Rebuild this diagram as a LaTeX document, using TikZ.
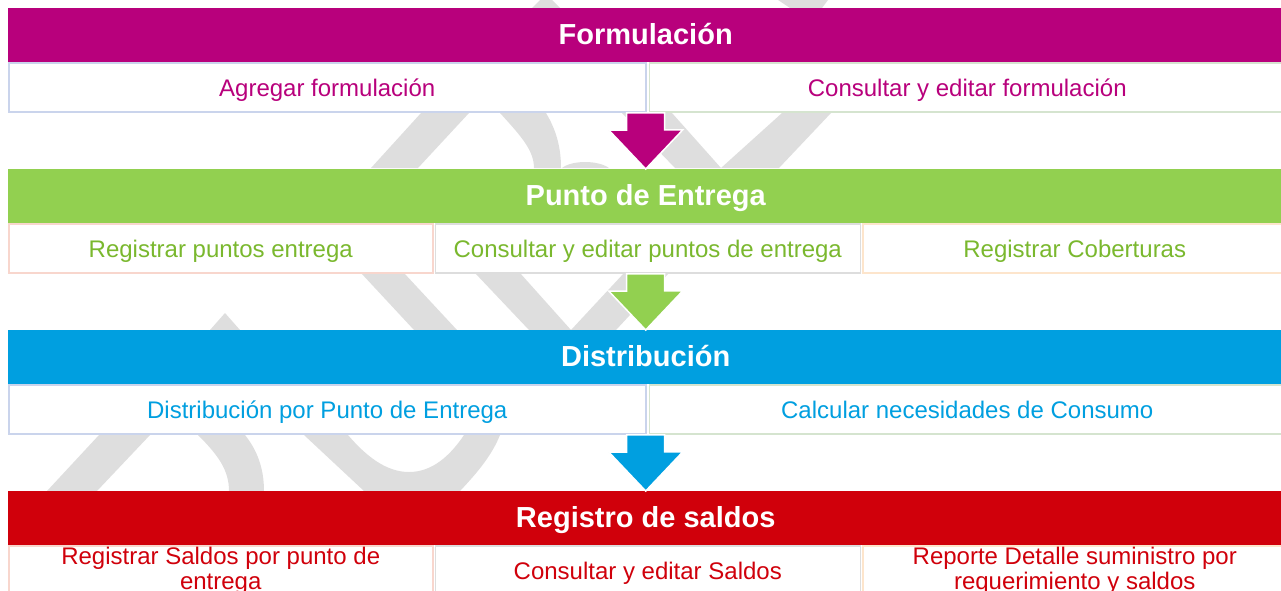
\documentclass[tikz,border=0pt]{standalone}
\usepackage{fontspec}
\setmainfont{Liberation Sans}
\usetikzlibrary{positioning}
\definecolor{formcol}{HTML}{B8007C}
\definecolor{puntocol}{HTML}{92D050}
\definecolor{puntotxt}{HTML}{7AB82E}
\definecolor{distcol}{HTML}{009FE0}
\definecolor{saldocol}{HTML}{D0000B}
\definecolor{marca}{HTML}{DEDEDE}
\definecolor{lineaazul}{HTML}{CAD4EC}
\definecolor{lineaverde}{HTML}{D5E4CF}
\definecolor{linearosa}{HTML}{F8D6CD}
\definecolor{lineagris}{HTML}{DDDDDD}
\definecolor{lineanaranja}{HTML}{FDE5CC}
\tikzset{
headbar/.style={
	anchor=north west, inner sep=0pt, minimum width=1275pt,
	minimum height=54pt, text height=25pt, text depth=6pt,
	text=white, font=\fontsize{29}{30}\selectfont\bfseries},
subcell/.style={
	anchor=north west, draw, fill=white, line width=1.5pt, inner sep=0pt,
	minimum height=49pt, text height=22pt, text depth=5pt,
	align=center, font=\fontsize{24}{25}\selectfont}
}
\newcommand{\bajada}[3]{%
  \filldraw[draw=white, line width=1.5pt, fill=#3]
    (#2.north |- #1.south) ++(-19,0) -- ++(38,0) -- ++(0,17) -- ++(18,0)
    -- (#2.north) -- ++(-37,-39) -- ++(18,0) -- cycle;}

\begin{document}
\begin{tikzpicture}[x=1pt, y=-1pt, node distance=1pt]
	\useasboundingbox (0,0) rectangle (1281,590);
	\clip (0,0) rectangle (1281,590);
	% marca de agua
	\fill[marca] (532,8) -- (540,0) -- (552,0) -- (560,8) -- cycle;
	\fill[marca] (778,0) -- (828,0) -- (822,8) -- (790,8) -- cycle;
	\fill[marca] (371,168) -- (421,113) -- (469,113) -- (418,168) -- cycle;
	\fill[marca] (500,113) .. controls (520,135) and (534,150) .. (534,168)
		-- (561,168) .. controls (561,145) and (555,128) .. (546,113) -- cycle;
	\fill[marca] (562,168) .. controls (572,160) and (598,160) .. (609,168) -- cycle;
	\fill[marca] (622,113) -- (672,113) -- (721,168) -- (675,168) -- cycle;
	\fill[marca] (721,168) -- (779,168) -- (831,113) -- (782,113) -- cycle;
	\fill[marca] (210,330) -- (225,313) -- (240,330) -- cycle;
	\fill[marca] (361,273) -- (404,273) -- (457,330) -- (414,330) -- cycle;
	\fill[marca] (475,273) -- (520,273) -- (571,330) -- (529,330) -- cycle;
	\fill[marca] (571,330) -- (616,330) -- (669,273) -- (624,273) -- cycle;
	\fill[marca] (47,491) -- (97,491) -- (150,435) -- (99,435) -- cycle;
	\fill[marca] (198,435) .. controls (218,455) and (229,470) .. (229,491)
		-- (264,491) .. controls (264,468) and (257,450) .. (245,435) -- cycle;
	\fill[marca] (304,435) -- (364,491) -- (460,491) .. controls (478,472) and (492,455) .. (500,435)
		-- (464,435) .. controls (450,456) and (432,472) .. (409,472)
		.. controls (386,472) and (366,456) .. (348,435) -- cycle;

	% Formulacion
	\node[headbar, fill=formcol] (form) at (8,8) {Formulación};
	\node[subcell, draw=lineaazul, text=formcol, minimum width=637pt] (f1) at (form.south west) {Agregar formulación};
	\node[subcell, draw=lineaverde, text=formcol, minimum width=636pt, right=2pt of f1] (f2) {Consultar y editar formulación};

	% Punto de entrega
	\node[headbar, fill=puntocol] (pe) at (8,169) {Punto de Entrega};
	\node[subcell, draw=linearosa, text=puntotxt, minimum width=424pt] (p1) at (pe.south west) {Registrar puntos entrega};
	\node[subcell, draw=lineagris, text=puntotxt, minimum width=425pt, right=of p1] (p2) {Consultar y editar puntos de entrega};
	\node[subcell, draw=lineanaranja, text=puntotxt, minimum width=424pt, right=of p2] (p3) {Registrar Coberturas};

	% Distribucion
	\node[headbar, fill=distcol] (dist) at (8,330) {Distribución};
	\node[subcell, draw=lineaazul, text=distcol, minimum width=637pt] (d1) at (dist.south west) {Distribución por Punto de Entrega};
	\node[subcell, draw=lineaverde, text=distcol, minimum width=636pt, right=2pt of d1] (d2) {Calcular necesidades de Consumo};

	% Registro de saldos
	\node[headbar, fill=saldocol] (rs) at (8,491) {Registro de saldos};
	\node[subcell, draw=linearosa, text=saldocol, minimum width=424pt, text height=, text depth=] (r1) at (rs.south west) {Registrar Saldos por punto de\\entrega};
	\node[subcell, draw=lineagris, text=saldocol, minimum width=425pt, right=of r1] (r2) {Consultar y editar Saldos};
	\node[subcell, draw=lineanaranja, text=saldocol, minimum width=424pt, right=of r2, text height=, text depth=] (r3) {Reporte Detalle suministro por\\requerimiento y saldos};

	\bajada{f1}{pe}{formcol}
	\bajada{p1}{dist}{puntocol}
	\bajada{d1}{rs}{distcol}
\end{tikzpicture}
\end{document}
